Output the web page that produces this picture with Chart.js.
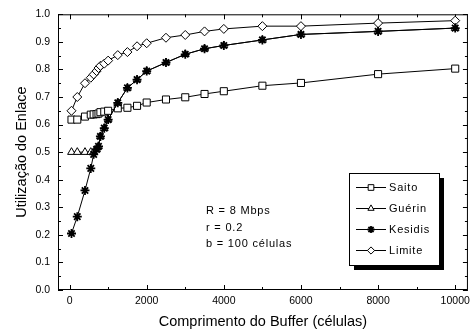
<!DOCTYPE html>
<html>
<head>
<meta charset="utf-8">
<script src="https://cdn.jsdelivr.net/npm/chart.js@4.4.1/dist/chart.umd.min.js"></script>
<style>
  html, body { margin: 0; padding: 0; background: #fff; }
  #wrap { width: 475px; height: 336px; }
</style>
</head>
<body>
<div id="wrap"><canvas id="chart" width="475" height="336"></canvas></div>
<script>
// buffer length (cells) and link utilisation per model
const bufferSizes = [50, 200, 400, 550, 625, 700, 750, 800, 900, 1000, 1250, 1500, 1750, 2000, 2500, 3000, 3500, 4000, 5000, 6000, 8000, 10000];
const saito   = [0.618, 0.618, 0.629, 0.636, 0.637, 0.638, 0.640, 0.645, 0.647, 0.650, 0.659, 0.661, 0.668, 0.680, 0.691, 0.699, 0.711, 0.721, 0.741, 0.751, 0.783, 0.803];
const guerin  = [0.500, 0.500, 0.500, 0.500, 0.500, 0.510, 0.521, 0.557, 0.587, 0.618, 0.679, 0.733, 0.763, 0.794, 0.825, 0.855, 0.875, 0.887, 0.907, 0.927, 0.938, 0.950];
const kesidis = [0.205, 0.266, 0.361, 0.441, 0.492, 0.510, 0.521, 0.557, 0.587, 0.618, 0.679, 0.733, 0.763, 0.794, 0.825, 0.855, 0.875, 0.887, 0.907, 0.927, 0.938, 0.950];
const limite  = [0.650, 0.700, 0.750, 0.770, 0.782, 0.794, 0.805, 0.813, 0.821, 0.832, 0.852, 0.863, 0.884, 0.895, 0.915, 0.925, 0.938, 0.947, 0.957, 0.957, 0.968, 0.977];

const xTickValues = [0, 1000, 2000, 3000, 4000, 5000, 6000, 7000, 8000, 9000, 10000];
const xTickLabels = ['0', '2000', '4000', '6000', '8000', '10000'];
const yTickValues = [0, 0.05, 0.1, 0.15, 0.2, 0.25, 0.3, 0.35, 0.4, 0.45, 0.5, 0.55, 0.6, 0.65, 0.7, 0.75, 0.8, 0.85, 0.9, 0.95, 1];
const yTickLabels = ['0.0', '0.1', '0.2', '0.3', '0.4', '0.5', '0.6', '0.7', '0.8', '0.9', '1.0'];
const notes = ['R = 8 Mbps', 'r = 0.2', 'b = 100 células'];

Chart.defaults.font.family = "'Liberation Sans', Arial, sans-serif";
Chart.defaults.color = '#000';

function points(values) {
  return bufferSizes.map((b, i) => ({ x: b, y: values[i] }));
}

function isYLabel(v) {
  const s = v.toFixed(1);
  return yTickLabels.includes(s) && Math.abs(v - Number(s)) < 1e-6;
}

// box frame with inward ticks on all four sides, legend and notes
const frame = {
  id: 'frame',
  beforeDatasetsDraw(chart) {
    const { ctx, chartArea: a, scales: { x, y } } = chart;
    ctx.save();
    ctx.strokeStyle = '#000';
    ctx.lineWidth = 1;
    ctx.strokeRect(a.left + 0.5, a.top + 0.5, a.right - a.left - 1, a.bottom - a.top - 1);
    ctx.beginPath();
    xTickValues.forEach(v => {
      const px = Math.round(x.getPixelForValue(v)) + 0.5;
      const len = xTickLabels.includes(String(v)) ? 5 : 3;
      ctx.moveTo(px, a.bottom); ctx.lineTo(px, a.bottom - len);
      ctx.moveTo(px, a.top); ctx.lineTo(px, a.top + len);
    });
    yTickValues.forEach(v => {
      const py = Math.round(y.getPixelForValue(v)) + 0.5;
      const len = isYLabel(v) ? 5 : 3;
      ctx.moveTo(a.left, py); ctx.lineTo(a.left + len, py);
      ctx.moveTo(a.right, py); ctx.lineTo(a.right - len, py);
    });
    ctx.stroke();
    ctx.restore();
  },
  afterDraw(chart) {
    const ctx = chart.ctx;
    ctx.save();
    ctx.letterSpacing = '0.8px';
    ctx.font = "11px 'Liberation Sans', Arial, sans-serif";
    ctx.fillStyle = '#000';
    ctx.textBaseline = 'middle';
    ctx.textAlign = 'left';

    notes.forEach((t, i) => ctx.fillText(t, 206, 211 + i * 16.5));

    // legend box with drop shadow
    const bx = 349.5, by = 173.5, bw = 90, bh = 92;
    ctx.fillRect(bx + 4.5, by + 4.5, bw, bh);
    ctx.fillStyle = '#fff';
    ctx.fillRect(bx, by, bw, bh);
    ctx.strokeStyle = '#000';
    ctx.lineWidth = 1;
    ctx.strokeRect(bx, by, bw, bh);

    chart.data.datasets.forEach((ds, i) => {
      const ly = 187.5 + i * 21;
      ctx.beginPath();
      ctx.moveTo(356, ly); ctx.lineTo(386, ly);
      ctx.strokeStyle = '#000';
      ctx.lineWidth = 1;
      ctx.stroke();
      ctx.fillStyle = ds.pointBackgroundColor;
      ctx.strokeStyle = ds.pointBorderColor;
      ctx.lineWidth = ds.pointBorderWidth;
      Chart.helpers.drawPoint(ctx, {
        pointStyle: ds.pointStyle, radius: ds.pointRadius * 0.8,
        borderWidth: ds.pointBorderWidth, rotation: 0
      }, 371, ly);
      ctx.fillStyle = '#000';
      ctx.fillText(ds.label, 389, ly);
    });
    ctx.restore();
  }
};

const common = {
  borderColor: '#000',
  borderWidth: 1,
  pointBorderColor: '#000',
  pointBackgroundColor: '#fff',
  pointBorderWidth: 1,
  tension: 0
};

new Chart(document.getElementById('chart'), {
  type: 'line',
  data: {
    datasets: [
      { ...common, label: 'Saito', data: points(saito), pointStyle: 'rect', pointRadius: 5, order: 2 },
      { ...common, label: 'Guérin', data: points(guerin), pointStyle: 'triangle', pointRadius: 4.5, order: 1 },
      { ...common, label: 'Kesidis', data: points(kesidis), pointStyle: 'star', pointRadius: 4.5, pointBorderWidth: 1.8, pointBackgroundColor: '#000', order: 0 },
      { ...common, label: 'Limite', data: points(limite), pointStyle: 'rectRot', pointRadius: 4.5, order: 3 }
    ]
  },
  options: {
    responsive: false,
    animation: false,
    devicePixelRatio: 1,
    layout: { padding: { left: 0, right: 3, top: 12, bottom: 0 } },
    plugins: { legend: { display: false }, tooltip: { enabled: false } },
    scales: {
      x: {
        type: 'linear',
        min: -300,
        max: 10330,
        grid: { display: false, drawTicks: false },
        border: { display: false },
        afterBuildTicks: s => { s.ticks = xTickValues.map(v => ({ value: v })); },
        afterFit: s => { s.height = 46; },
        ticks: {
          autoSkip: false,
          maxRotation: 0,
          padding: 5,
          font: { size: 10.5 },
          callback: v => xTickLabels.includes(String(v)) ? String(v) : ''
        },
        title: {
          display: true,
          text: 'Comprimento do Buffer (células)',
          font: { size: 14.5 },
          padding: { top: 2, bottom: 5 }
        }
      },
      y: {
        min: 0,
        max: 1,
        grid: { display: false, drawTicks: false },
        border: { display: false },
        afterBuildTicks: s => { s.ticks = yTickValues.map(v => ({ value: v })); },
        afterFit: s => { s.width = 58; },
        ticks: {
          autoSkip: false,
          padding: 8,
          font: { size: 10.5 },
          callback: v => isYLabel(v) ? v.toFixed(1) : ''
        },
        title: {
          display: true,
          text: 'Utilização do Enlace',
          font: { size: 14.5 },
          padding: { top: 13, bottom: 0 }
        }
      }
    }
  },
  plugins: [frame]
});
</script>
</body>
</html>
